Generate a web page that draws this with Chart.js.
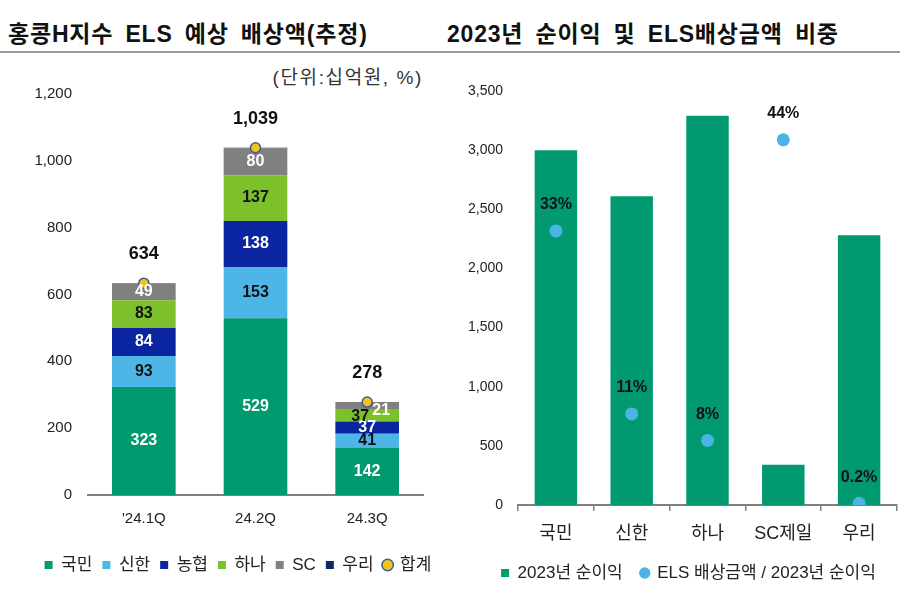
<!DOCTYPE html>
<html><head><meta charset="utf-8">
<script src="https://cdn.jsdelivr.net/npm/chart.js@4.4.1/dist/chart.umd.min.js"></script>
<style>
html,body{margin:0;padding:0;width:900px;height:590px;overflow:hidden;background:#fff;font-family:'Liberation Sans','Noto Sans CJK KR',sans-serif;}
body{position:relative}
.title{position:absolute;top:20px;font-size:23px;font-weight:700;color:#111;white-space:nowrap;line-height:28px;letter-spacing:0.8px;word-spacing:5px}
#t1{left:8px}
#t2{left:447px}
#rule{position:absolute;left:0;top:51px;width:900px;height:2px;background:#9a9a9a}
#unit{position:absolute;right:477px;top:66px;font-size:19px;color:#333;line-height:23px;white-space:nowrap;letter-spacing:1.6px}
#w1{position:absolute;left:0;top:60px;width:476px;height:540px}
#w2{position:absolute;left:440px;top:60px;width:497px;height:540px}
</style></head>
<body>
<div class="title" id="t1">홍콩H지수 ELS 예상 배상액(추정)</div>
<div class="title" id="t2">2023년 순이익 및 ELS배상금액 비중</div>
<div id="rule"></div>
<div id="unit">(단위:십억원, %)</div>
<div id="w1"><canvas id="c1"></canvas></div>
<div id="w2"><canvas id="c2"></canvas></div>
<script>
// ---- Left chart data ----
const quarters = ["'24.1Q", "24.2Q", "24.3Q"];
const kookmin  = [323, 529, 142];
const shinhan  = [93, 153, 41];
const nonghyup = [84, 138, 37];
const hana     = [83, 137, 37];
const scBank   = [49, 80, 21];
const woori    = [2, 2, 0];
const totals   = [634, 1039, 278];

// ---- Right chart data ----
const banks = ['국민', '신한', '하나', 'SC제일', '우리'];
const netIncome2023 = [3000, 2610, 3290, 340, 2280];
const elsRatio = [33.1, 11.0, 7.8, 44.1, 0.2];

Chart.defaults.font.family = "'Liberation Sans','Noto Sans CJK KR',sans-serif";
Chart.defaults.color = '#222';

const fmt = v => Number(v).toLocaleString('en-US');
const pct = v => (v >= 1 ? Math.round(v) : v.toFixed(1)) + '%';

const COL = {
  kookmin: '#019a70', shinhan: '#4db6e6', nonghyup: '#0b24a0',
  hana: '#7cc12b', sc: '#808080', woori: '#0d2b5e',
  totalFill: '#f6c21c', totalBorder: '#3e5f8e', dot: '#4bb3e6'
};

const segLabelColors = ['#ffffff', '#111111', '#ffffff', '#111111', '#ffffff', null];
const segLabelShift = { '3-2': [-7, 1], '4-2': [14, 5] };

const leftLabels = {
  id: 'leftLabels',
  afterDatasetsDraw(chart) {
    const ctx = chart.ctx;
    ctx.save();
    ctx.textAlign = 'center';
    ctx.textBaseline = 'middle';
    chart.data.datasets.forEach((ds, i) => {
      const meta = chart.getDatasetMeta(i);
      if (ds.type === 'line') {
        ctx.font = "bold 18px 'Liberation Sans','Noto Sans CJK KR',sans-serif";
        ctx.fillStyle = '#111';
        meta.data.forEach((pt, j) => {
          ctx.fillText(fmt(ds.data[j]), pt.x, pt.y - 29);
        });
        return;
      }
      const color = segLabelColors[i];
      if (!color) return;
      ctx.font = "bold 16px 'Liberation Sans','Noto Sans CJK KR',sans-serif";
      ctx.fillStyle = color;
      meta.data.forEach((bar, j) => {
        const v = ds.data[j];
        if (!v) return;
        const p = bar.getProps(['x', 'y', 'base'], true);
        const sh = segLabelShift[i + '-' + j] || [0, 0];
        ctx.fillText(fmt(v), p.x + sh[0], (p.y + p.base) / 2 + sh[1]);
      });
    });
    ctx.restore();
  }
};

const barDs = (label, data, color) => ({
  label, data, backgroundColor: color, borderWidth: 0, pointStyle: 'rect', stack: 'banks'
});

new Chart(document.getElementById('c1'), {
  type: 'bar',
  data: {
    labels: quarters,
    datasets: [
      barDs('국민', kookmin, COL.kookmin),
      barDs('신한', shinhan, COL.shinhan),
      barDs('농협', nonghyup, COL.nonghyup),
      barDs('하나', hana, COL.hana),
      barDs('SC', scBank, COL.sc),
      barDs('우리', woori, COL.woori),
      {
        type: 'line', label: '합계', data: totals, showLine: false, stack: 'total',
        pointStyle: 'circle', pointRadius: 5, pointHoverRadius: 5,
        pointBackgroundColor: COL.totalFill, pointBorderColor: COL.totalBorder, pointBorderWidth: 1.5,
        backgroundColor: COL.totalFill, borderColor: COL.totalBorder, order: -1
      }
    ]
  },
  options: {
    responsive: true, maintainAspectRatio: false, animation: false,
    layout: { padding: { top: 34, bottom: 16.5, left: 0, right: 0 } },
    datasets: { bar: { barPercentage: 0.57, categoryPercentage: 1 } },
    scales: {
      x: {
        stacked: true, grid: { display: false },
        border: { display: true, color: '#7f7f7f', width: 2 },
        ticks: { font: { size: 15 }, color: '#222', padding: 7 },
        afterFit(s) { s.height = 51.5; }
      },
      y: {
        stacked: true, min: 0, max: 1200,
        ticks: { stepSize: 200, font: { size: 15 }, color: '#222', padding: 8, callback: v => fmt(v) },
        grid: { display: false }, border: { display: false },
        afterFit(s) { s.width = 88; }
      },
      yR: {
        position: 'right', display: true, min: 0, max: 1200,
        grid: { display: false }, border: { display: false }, ticks: { display: false },
        afterFit(s) { s.width = 53; }
      }
    },
    plugins: {
      legend: {
        position: 'bottom',
        labels: {
          usePointStyle: true, boxWidth: 8, boxHeight: 8, padding: 10,
          font: { size: 17 }, color: '#222',
          sort: (a, b) => a.datasetIndex - b.datasetIndex
        }
      },
      tooltip: { enabled: false }
    }
  },
  plugins: [leftLabels]
});

const rightLabels = {
  id: 'rightLabels',
  afterDatasetsDraw(chart) {
    const ctx = chart.ctx;
    ctx.save();
    ctx.textAlign = 'center';
    ctx.textBaseline = 'middle';
    ctx.font = "bold 16px 'Liberation Sans','Noto Sans CJK KR',sans-serif";
    ctx.fillStyle = '#111';
    const meta = chart.getDatasetMeta(1);
    meta.data.forEach((pt, j) => {
      ctx.fillText(pct(elsRatio[j]), pt.x, pt.y - 26);
    });
    ctx.restore();
  }
};

new Chart(document.getElementById('c2'), {
  type: 'bar',
  data: {
    labels: banks,
    datasets: [
      { label: '2023년 순이익', data: netIncome2023, backgroundColor: COL.kookmin, borderWidth: 0, pointStyle: 'rect', yAxisID: 'y' },
      {
        type: 'line', label: 'ELS 배상금액 / 2023년 순이익', data: elsRatio, yAxisID: 'y2', showLine: false,
        pointStyle: 'circle', pointRadius: 6.5, pointHoverRadius: 6.5,
        pointBackgroundColor: COL.dot, pointBorderColor: COL.dot, pointBorderWidth: 0,
        backgroundColor: COL.dot, borderColor: COL.dot, order: -1
      }
    ]
  },
  options: {
    responsive: true, maintainAspectRatio: false, animation: false,
    layout: { padding: { top: 31, bottom: 8.5, left: 0, right: 0 } },
    datasets: { bar: { barPercentage: 0.56, categoryPercentage: 1 } },
    scales: {
      x: {
        grid: { display: true, drawOnChartArea: false, drawTicks: true, tickLength: 6, color: '#808080', lineWidth: 1.5, offset: true },
        border: { display: true, color: '#808080', width: 2 },
        ticks: { font: { size: 18 }, color: '#222', padding: 12 },
        afterFit(s) { s.height = 41.5; }
      },
      y: {
        min: 0, max: 3500,
        ticks: { stepSize: 500, font: { size: 14 }, color: '#222', padding: 7, callback: v => fmt(v) },
        grid: { display: false }, border: { display: false },
        afterFit(s) { s.width = 78; }
      },
      yPad: {
        position: 'right', display: true, min: 0, max: 3500,
        grid: { display: false }, border: { display: false }, ticks: { display: false },
        afterFit(s) { s.width = 40; }
      },
      y2: { display: false, min: 0, max: 50 }
    },
    plugins: {
      legend: {
        position: 'bottom',
        labels: {
          usePointStyle: true, boxWidth: 8, boxHeight: 8, padding: 18,
          font: { size: 17 }, color: '#222',
          sort: (a, b) => a.datasetIndex - b.datasetIndex
        }
      },
      tooltip: { enabled: false }
    }
  },
  plugins: [rightLabels]
});
</script>
</body></html>
